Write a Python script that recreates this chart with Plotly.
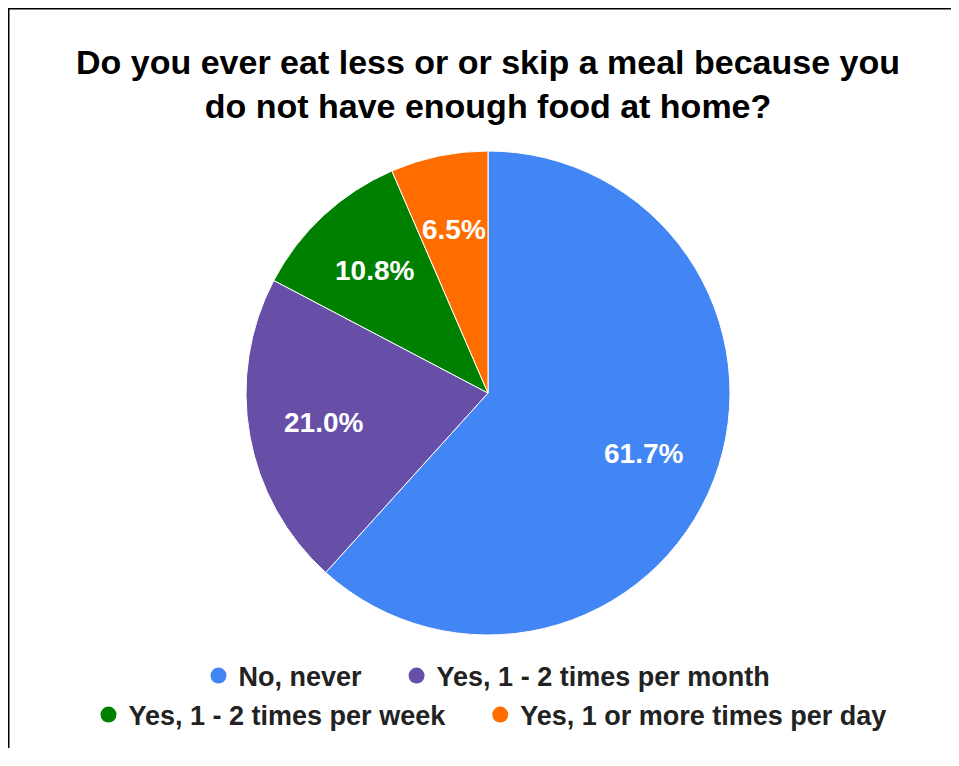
import math
import plotly.graph_objects as go

categories = ["No, never", "Yes, 1 - 2 times per month", "Yes, 1 - 2 times per week", "Yes, 1 or more times per day"]
values = [61.7, 21.0, 10.8, 6.5]
colors = ["#4285F4", "#674EA7", "#008000", "#FF6D01"]
title_text = "Do you ever eat less or or skip a meal because you<br>do not have enough food at home?"

# figure sized to fit the window inside the page's 8px body margin
W, H = 943, 740
cx, cy, r = 480, 385, 242   # pie centre and radius in pixels (figure coords)

fig = go.Figure()
fig.add_trace(go.Pie(
    labels=categories, values=values, sort=False, direction="clockwise", rotation=0,
    marker=dict(colors=colors, line=dict(color="white", width=1)),
    textinfo="none", showlegend=False, hoverinfo="label+percent",
    domain=dict(x=[(cx - r) / W, (cx + r) / W], y=[1 - (cy + r) / H, 1 - (cy - r) / H]),
))

# percentage labels placed at the middle angle of each slice (computed from the data)
total = sum(values)
annotations = []
cum = 0.0
for v in values:
    mid = (cum + v / 2) / total * 2 * math.pi
    cum += v
    lx = cx + 0.69 * r * math.sin(mid)
    ly = cy - 0.69 * r * math.cos(mid)
    annotations.append(dict(
        x=lx / W, y=1 - ly / H, xref="paper", yref="paper", showarrow=False,
        text=f"{v / total * 100:.1f}%", xanchor="center", yanchor="middle",
        font=dict(family="Liberation Sans", size=28, color="white", weight="bold")))

# legend: two centred rows; trailing non-breaking spaces widen the gap after the first entry
legend_of = ["legend", "legend", "legend2", "legend2"]
pad = "\u00a0" * 4
for i, (name, col, lg) in enumerate(zip(categories, colors, legend_of)):
    shown = name + pad if i in (0, 2) else name
    fig.add_trace(go.Scatter(x=[None], y=[None], mode="markers", name=shown,
                             marker=dict(color=col, size=24), legend=lg, showlegend=True,
                             hoverinfo="skip"))

legfont = dict(family="Liberation Sans", size=27, color="#222222", weight="bold")
fig.update_layout(
    width=W, height=H, margin=dict(l=0, r=0, t=0, b=0),
    paper_bgcolor="white", plot_bgcolor="white",
    xaxis=dict(visible=False, domain=[0.3, 0.31], showline=False, zeroline=False, showgrid=False),
    yaxis=dict(visible=False, domain=[0.5, 0.51], showline=False, zeroline=False, showgrid=False),
    title=dict(text=title_text, x=480 / W, xanchor="center", y=1 - 66 / H, yanchor="top",
               font=dict(family="Liberation Sans", size=34, color="#000000", weight="bold")),
    legend=dict(orientation="h", x=479 / W, xanchor="center", y=1 - 668 / H, yanchor="middle",
                font=legfont, bgcolor="rgba(0,0,0,0)"),
    legend2=dict(orientation="h", x=482 / W, xanchor="center", y=1 - 707 / H, yanchor="middle",
                 font=legfont, bgcolor="rgba(0,0,0,0)"),
    annotations=annotations,
    shapes=[
        dict(type="line", xref="paper", yref="paper", x0=0, x1=0, y0=0, y1=1,
             line=dict(color="black", width=3)),
        dict(type="line", xref="paper", yref="paper", x0=0, x1=1, y0=1, y1=1,
             line=dict(color="black", width=3)),
    ],
)
fig.write_html("out.html")
